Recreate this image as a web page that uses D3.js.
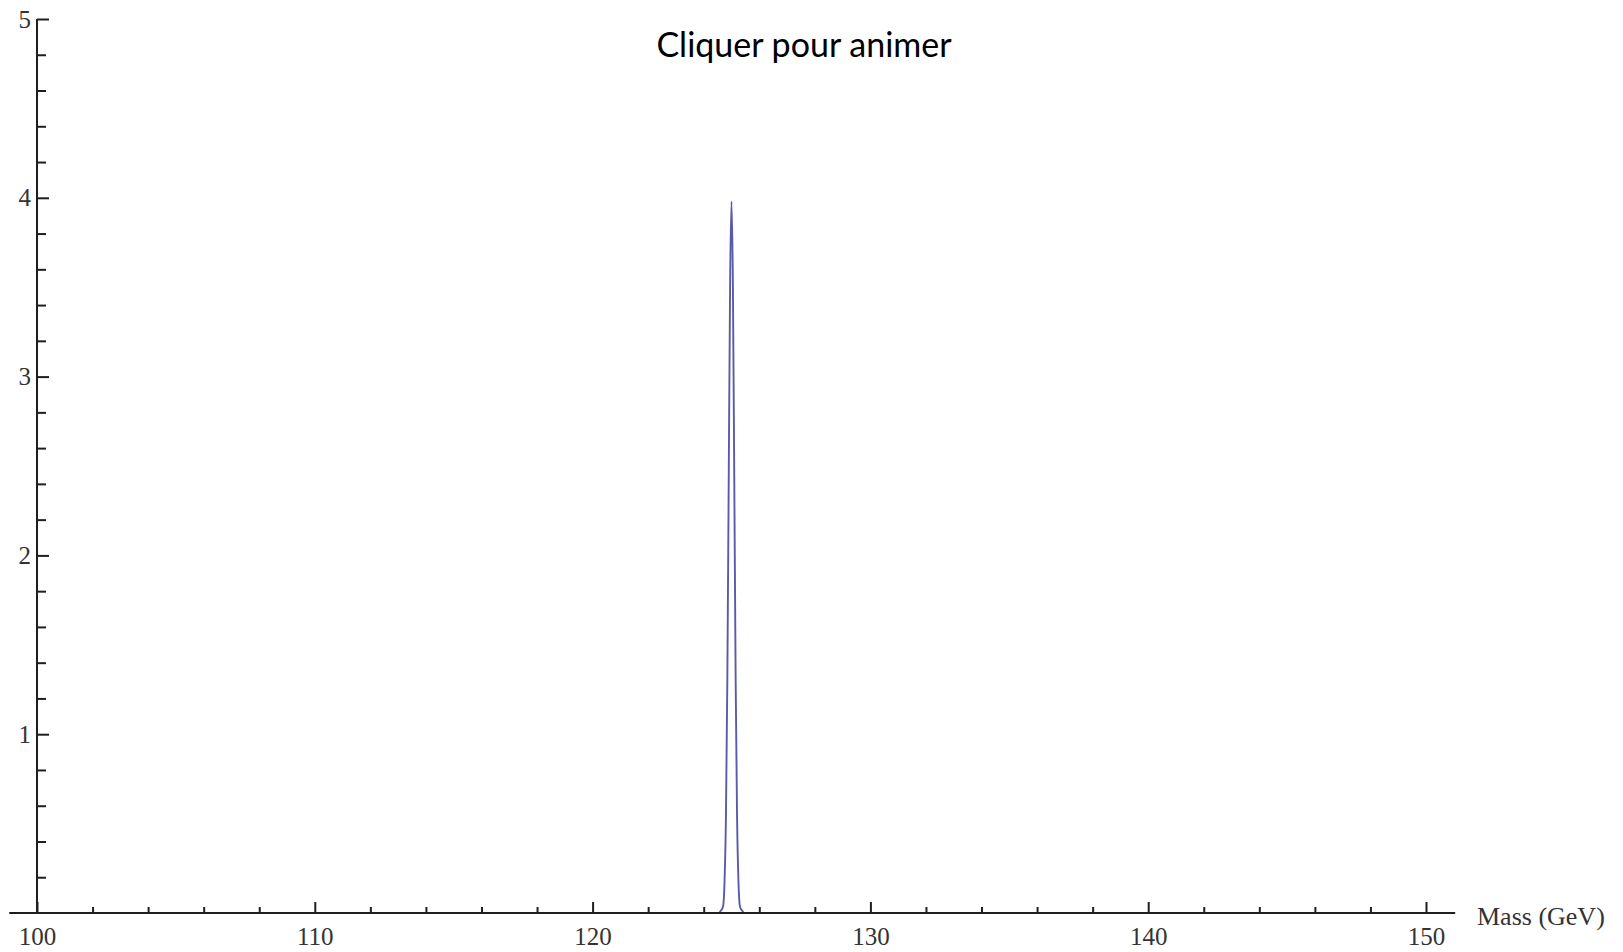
<!DOCTYPE html>
<html>
<head>
<meta charset="utf-8">
<script src="https://cdn.jsdelivr.net/npm/d3@7"></script>
<style>
  html, body { margin: 0; padding: 0; background: #ffffff; }
  svg { display: block; }
</style>
</head>
<body>
<svg id="chart" width="1623" height="952"></svg>
<script>
// ---- data ----
const massValues = [100, 124.55, 124.6, 124.65, 124.7, 124.75, 124.8, 124.85, 124.9, 124.95, 125,
                    125.05, 125.1, 125.15, 125.2, 125.25, 125.3, 125.35, 125.4, 125.45, 150];
const densityValues = [0, 0, 0.01, 0.02, 0.04, 0.18, 0.54, 1.30, 2.42, 3.52, 3.98,
                       3.52, 2.42, 1.30, 0.54, 0.18, 0.04, 0.02, 0.01, 0, 0];
const xMajorTicks = [100, 110, 120, 130, 140, 150];
const xMinorTicks = [102, 104, 106, 108, 112, 114, 116, 118, 122, 124, 126, 128, 132, 134, 136, 138, 142, 144, 146, 148];
const yMajorTicks = [1, 2, 3, 4, 5];
const yMinorTicks = [0.2, 0.4, 0.6, 0.8, 1.2, 1.4, 1.6, 1.8, 2.2, 2.4, 2.6, 2.8, 3.2, 3.4, 3.6, 3.8, 4.2, 4.4, 4.6, 4.8];
const xAxisLabel = "Mass (GeV)";
const titleText = "Cliquer pour animer";

// ---- layout ----
const svg = d3.select("#chart");
const x = d3.scaleLinear().domain([100, 150]).range([37, 1426]);
const y = d3.scaleLinear().domain([0, 5]).range([913, 19]);
const axisColor = "#1e1e1e";
const labelColor = "#333333";
const serif = "'Liberation Serif', 'Times New Roman', serif";

// curve
const pts = massValues.map((m, i) => ({ m, v: densityValues[i] }));
svg.append("path")
  .datum(pts)
  .attr("fill", "none")
  .attr("stroke", "#5a5aac")
  .attr("stroke-width", 1.9)
  .attr("stroke-linejoin", "round")
  .attr("d", d3.line().x(d => x(d.m)).y(d => y(d.v)).curve(d3.curveMonotoneX));

// x axis line (extends slightly beyond the range like the original)
svg.append("line")
  .attr("x1", x(99)).attr("x2", x(151.05))
  .attr("y1", y(0)).attr("y2", y(0))
  .attr("stroke", axisColor).attr("stroke-width", 2);

// y axis line
svg.append("line")
  .attr("x1", x(100)).attr("x2", x(100))
  .attr("y1", y(0)).attr("y2", y(5))
  .attr("stroke", axisColor).attr("stroke-width", 2);

function styleAxis(g, fontSize) {
  g.select(".domain").remove();
  g.selectAll(".tick line").attr("stroke", axisColor).attr("stroke-width", 2);
  g.selectAll(".tick text")
    .attr("fill", labelColor)
    .style("font-family", serif)
    .style("font-size", fontSize + "px");
}

// x major
const gxMaj = svg.append("g").attr("transform", `translate(0,${y(0)})`)
  .call(d3.axisBottom(x).tickValues(xMajorTicks).tickSizeInner(-11).tickSizeOuter(0).tickPadding(14).tickFormat(d3.format("d")));
styleAxis(gxMaj, 25);
// x minor
const gxMin = svg.append("g").attr("transform", `translate(0,${y(0)})`)
  .call(d3.axisBottom(x).tickValues(xMinorTicks).tickSizeInner(-6).tickSizeOuter(0).tickFormat(""));
styleAxis(gxMin, 25);

// y major
const gyMaj = svg.append("g").attr("transform", `translate(${x(100)},0)`)
  .call(d3.axisLeft(y).tickValues(yMajorTicks).tickSizeInner(-12).tickSizeOuter(0).tickPadding(6).tickFormat(d3.format("d")));
styleAxis(gyMaj, 25);
// y minor
const gyMin = svg.append("g").attr("transform", `translate(${x(100)},0)`)
  .call(d3.axisLeft(y).tickValues(yMinorTicks).tickSizeInner(-9).tickSizeOuter(0).tickFormat(""));
styleAxis(gyMin, 25);

// axis label
svg.append("text")
  .attr("x", 1477).attr("y", 925)
  .attr("fill", labelColor)
  .style("font-family", serif)
  .style("font-size", "26px")
  .text(xAxisLabel);

// title
svg.append("text")
  .attr("x", 804).attr("y", 57)
  .attr("text-anchor", "middle")
  .attr("fill", "#000")
  .style("font-family", "Lato, 'Open Sans', sans-serif")
  .style("font-size", "34px")
  .text(titleText);
</script>
</body>
</html>
